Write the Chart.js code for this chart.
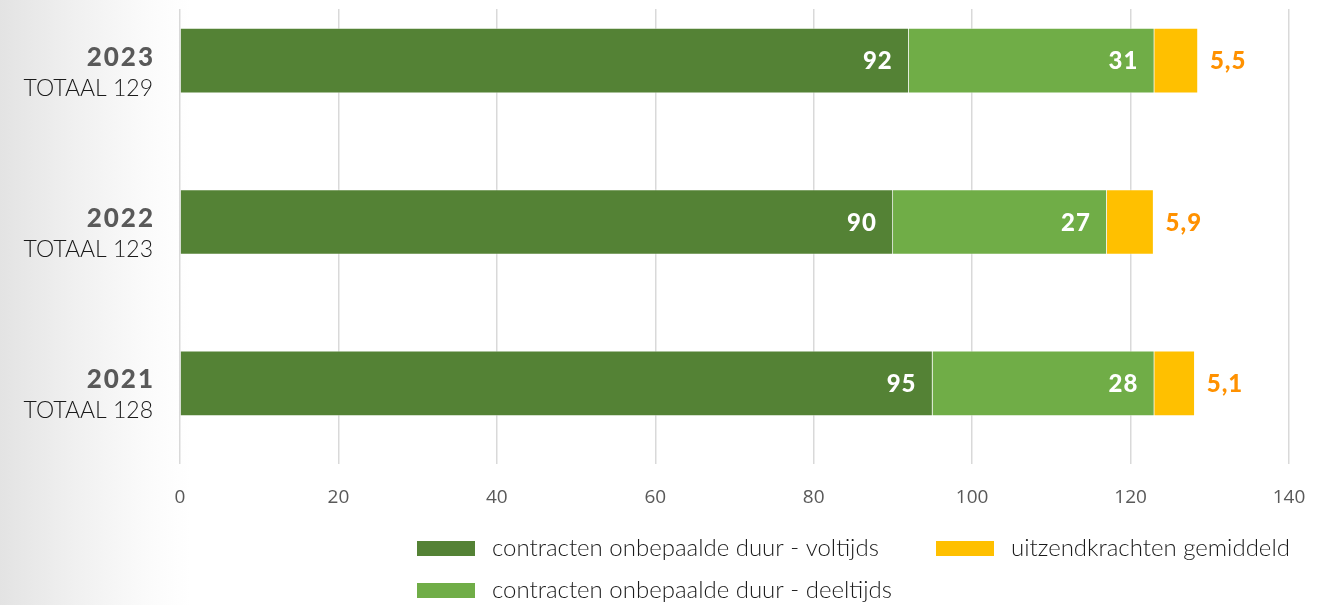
<!DOCTYPE html>
<html>
<head>
<meta charset="utf-8">
<script src="https://cdn.jsdelivr.net/npm/chart.js@4.4.0/dist/chart.umd.min.js"></script>
<style>
  html, body { margin: 0; padding: 0; background: #fff; }
  #wrap {
    position: relative; width: 1342px; height: 605px;
    background: linear-gradient(to right, #e3e3e3 0px, #f1f1f1 80px, #fbfbfb 150px, #ffffff 190px);
  }
  canvas { display: block; }
</style>
</head>
<body>
<div id="wrap"><canvas id="personeel" width="1342" height="605"></canvas></div>
<script>
var jaren = ['2023', '2022', '2021'];
var voltijds = [92, 90, 95];
var deeltijds = [31, 27, 28];
var uitzend = [5.5, 5.9, 5.1];
var xTicks = [0, 20, 40, 60, 80, 100, 120, 140];
var reeksNamen = [
    'contracten onbepaalde duur - voltijds',
    'contracten onbepaalde duur - deeltijds',
    'uitzendkrachten gemiddeld'
];
var kleuren = ['#548235', '#70ad47', '#ffc000'];

function punten(reeks) {
    return reeks.map(function (v, i) { return { x: v, y: i }; });
}

function komma(v) {
    return String(v).replace('.', ',');
}

// waarden in en naast de balken
var waardeLabels = {
    id: 'waardeLabels',
    afterDatasetsDraw: function (chart) {
        var ctx = chart.ctx;
        ctx.save();
        ctx.textBaseline = 'middle';
        ctx.font = '900 24px Lato';
        ctx.letterSpacing = '1px';
        chart.data.datasets.forEach(function (ds, d) {
            chart.getDatasetMeta(d).data.forEach(function (bar, i) {
                var txt = komma(ds.data[i].x);
                if (d < 2) {
                    ctx.fillStyle = '#ffffff';
                    ctx.textAlign = 'right';
                    ctx.fillText(txt, bar.x - 16, bar.y + 1);
                } else {
                    ctx.fillStyle = '#ff9100';
                    ctx.textAlign = 'left';
                    ctx.fillText(txt, bar.x + 12, bar.y + 1);
                }
            });
        });
        ctx.restore();
    }
};

// jaartal + totaal links van elke balk
var jaarLabels = {
    id: 'jaarLabels',
    afterDraw: function (chart) {
        var ctx = chart.ctx;
        var y = chart.scales.y;
        ctx.save();
        ctx.textAlign = 'right';
        ctx.textBaseline = 'alphabetic';
        jaren.forEach(function (jaar, i) {
            var py = y.getPixelForValue(i);
            var totaal = Math.round(voltijds[i] + deeltijds[i] + uitzend[i]);
            ctx.font = '900 26px Lato';
            ctx.letterSpacing = '2px';
            ctx.fillStyle = '#595959';
            ctx.fillText(jaar, 155, py + 5);
            ctx.font = '300 23px Lato';
            ctx.letterSpacing = '0px';
            ctx.fillStyle = '#1a1a1a';
            ctx.fillText('TOTAAL ' + totaal, 153, py + 35);
        });
        ctx.restore();
    }
};

// legenda in twee kolommen, zoals in het rapport
var legenda = {
    id: 'legenda',
    afterDraw: function (chart) {
        var ctx = chart.ctx;
        var plekken = [[417, 548], [417, 590], [936, 548]];
        ctx.save();
        ctx.font = '300 24px Lato';
        ctx.textBaseline = 'middle';
        ctx.textAlign = 'left';
        chart.data.datasets.forEach(function (ds, d) {
            var p = plekken[d];
            ctx.fillStyle = ds.backgroundColor;
            ctx.fillRect(p[0], p[1] - 7, 58, 15);
            ctx.fillStyle = '#1a1a1a';
            ctx.fillText(ds.label, p[0] + 75, p[1]);
        });
        ctx.restore();
    }
};

var sets = [voltijds, deeltijds, uitzend].map(function (reeks, d) {
    return {
        label: reeksNamen[d],
        data: punten(reeks),
        backgroundColor: kleuren[d],
        borderColor: 'rgba(255,255,255,0.35)',
        borderWidth: 1,
        barThickness: 65
    };
});

new Chart(document.getElementById('personeel').getContext('2d'), {
    type: 'bar',
    data: { datasets: sets },
    plugins: [waardeLabels, jaarLabels, legenda],
    options: {
        indexAxis: 'y',
        responsive: false,
        animation: false,
        layout: { padding: { left: 180, right: 53, top: 9, bottom: 100 } },
        plugins: {
            legend: { display: false },
            tooltip: { enabled: false }
        },
        scales: {
            x: {
                type: 'linear',
                stacked: true,
                min: 0,
                max: 140,
                afterBuildTicks: function (s) {
                    s.ticks = xTicks.map(function (v) { return { value: v }; });
                },
                afterFit: function (s) { s.height = 41; },
                border: { display: false },
                grid: { color: '#d9d9d9', lineWidth: 1.5, drawTicks: false },
                ticks: {
                    padding: 22,
                    color: '#595959',
                    font: { family: 'Open Sans', size: 19 }
                }
            },
            y: {
                type: 'linear',
                stacked: true,
                reverse: true,
                offset: false,
                min: -0.32,
                max: 2.5,
                display: false
            }
        }
    }
});
</script>
</body>
</html>
